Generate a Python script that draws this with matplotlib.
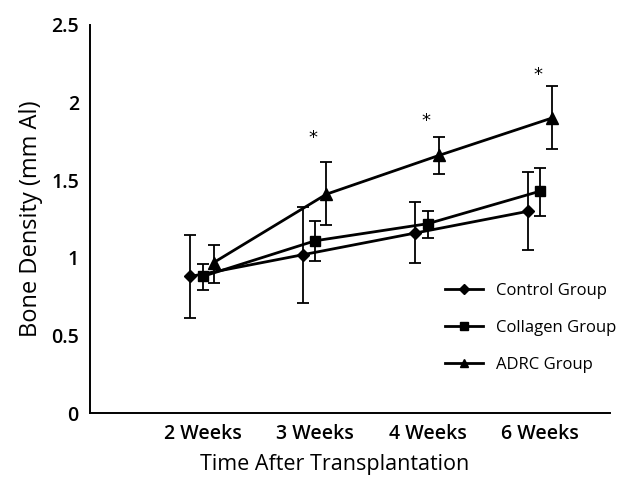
import numpy as np
import matplotlib
matplotlib.use("Agg")
import matplotlib.pyplot as plt

# ========== Data ==========
weeks = ["2 Weeks", "3 Weeks", "4 Weeks", "6 Weeks"]

control_mean = [0.88, 1.02, 1.16, 1.30]
control_lo = [0.61, 0.71, 0.97, 1.05]
control_hi = [1.15, 1.33, 1.36, 1.55]

collagen_mean = [0.88, 1.11, 1.22, 1.43]
collagen_lo = [0.79, 0.98, 1.13, 1.27]
collagen_hi = [0.96, 1.24, 1.30, 1.58]

adrc_mean = [0.97, 1.41, 1.66, 1.90]
adrc_lo = [0.84, 1.21, 1.54, 1.70]
adrc_hi = [1.08, 1.62, 1.78, 2.11]

star_weeks = [1, 2, 3]          # index into weeks
star_y = [1.77, 1.88, 2.18]

plt.rcParams['font.family'] = ['Open Sans', 'DejaVu Sans']

fig = plt.figure(figsize=(6.33, 4.86), dpi=100)
ax = fig.add_axes([0.142, 0.150, 0.822, 0.7986])

x = np.arange(1, len(weeks) + 1)

series = [
    ("Control Group", control_mean, control_lo, control_hi, "D", 6, -0.11),
    ("Collagen Group", collagen_mean, collagen_lo, collagen_hi, "s", 6.5, 0.0),
    ("ADRC Group", adrc_mean, adrc_lo, adrc_hi, "^", 8, 0.10),
]

handles = []
for label, mean, lo, hi, mk, ms, off in series:
    mean = np.array(mean)
    yerr = [mean - np.array(lo), np.array(hi) - mean]
    ax.errorbar(x + off, mean, yerr=yerr, fmt="none", ecolor="black",
                elinewidth=1.3, capsize=4, capthick=1.3, zorder=2)
    h, = ax.plot(x + off, mean, color="black", linewidth=2.0, marker=mk,
                 markersize=ms, label=label, zorder=3)
    handles.append(h)

for i, sy in zip(star_weeks, star_y):
    ax.text(x[i] - 0.02, sy, "*", ha="center", va="center", fontsize=13,
            family="DejaVu Sans")

ax.set_xlim(0, 4.62)
ax.set_ylim(0, 2.5)
ax.set_yticks([0, 0.5, 1, 1.5, 2, 2.5])
ax.set_yticklabels(["0", "0.5", "1", "1.5", "2", "2.5"])
ax.set_xticks(x)
ax.set_xticklabels(weeks)
ax.tick_params(axis="y", length=0, labelsize=14, pad=8)
ax.tick_params(axis="x", length=0, labelsize=14, pad=8)
for t in ax.get_xticklabels() + ax.get_yticklabels():
    t.set_fontweight("semibold")

ax.spines["top"].set_visible(False)
ax.spines["right"].set_visible(False)
ax.spines["left"].set_linewidth(1.4)
ax.spines["bottom"].set_linewidth(1.4)

ax.set_ylabel("Bone Density (mm Al)", fontsize=17, labelpad=6)
ax.set_xlabel("Time After Transplantation", fontsize=15.5, labelpad=6)
ax.xaxis.set_label_coords(0.47, -0.105)

ax.legend(handles=handles, loc="center left", bbox_to_anchor=(0.653, 0.22),
          frameon=False, fontsize=12, handlelength=2.3, labelspacing=1.25,
          handletextpad=0.8, markerscale=0.8)

fig.savefig("out.png", dpi=100)
